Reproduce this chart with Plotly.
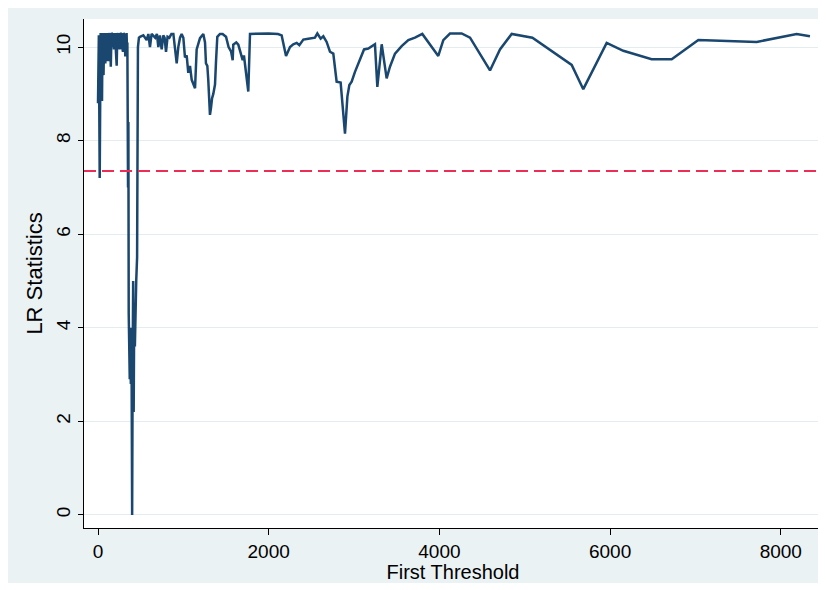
import plotly.graph_objects as go

# First-threshold candidate values (x) and LR statistics (y)
thresholds = [
    0, 10, 20, 31, 40, 47, 53, 59, 65, 72, 80, 86, 92, 98, 104, 110, 118, 125, 131, 137,
    145, 150, 158, 168, 175, 182, 187, 195, 203, 210, 219, 226, 234, 242, 254, 262, 273,
    282, 293, 300, 310, 320, 328, 335, 340, 344,
    352, 356, 360, 364, 368, 372, 378, 385, 392, 400, 406, 412, 418, 424, 432, 438, 448,
    458, 468, 480,
    492, 531, 570, 590, 609, 628, 648, 670, 690, 707, 725, 746, 765, 780, 797, 815, 836,
    860, 883, 902, 922, 941, 961, 980, 1000, 1019, 1039, 1058, 1078, 1098, 1117, 1137,
    1156, 1176, 1195, 1234, 1254, 1265, 1281, 1292, 1312, 1324, 1336, 1351, 1371, 1383,
    1398, 1429, 1460, 1500, 1530, 1560, 1578, 1585, 1620, 1644, 1660, 1680, 1695, 1710,
    1722, 1740, 1761, 1781, 1900, 2000, 2109, 2152, 2203, 2250, 2288, 2328, 2359, 2406,
    2464, 2542, 2570, 2609, 2640, 2679, 2718, 2757, 2796, 2843, 2894, 2922, 2945, 2972,
    3011, 3070, 3117, 3167, 3245, 3273, 3324, 3382, 3421, 3480, 3558, 3636, 3714, 3800,
    3890, 3987, 4046, 4124, 4261, 4359, 4593, 4710, 4847, 5090, 5550, 5686, 5960, 6155,
    6487, 6722, 7034, 7718, 8186, 8342,
]
lr_stats = [
    8.8, 10.25, 7.2, 10.3, 9.5, 8.85, 10.3, 10.1, 9.4, 10.3, 10.0, 9.65, 10.3, 9.8, 10.28,
    9.7, 10.3, 9.7, 10.25, 10.3, 9.9, 9.58, 10.3, 10.28, 10.0, 10.3, 9.95, 10.28, 10.3,
    9.9, 9.6, 10.25, 10.3, 10.1, 9.95, 10.3, 10.28, 10.0, 9.9, 10.3, 10.25, 9.8, 10.2,
    10.3, 9.9, 10.1,
    7.0, 8.4, 4.3, 3.0, 3.6, 2.9, 3.4, 2.8, 4.0, 0.0, 3.2, 5.0, 2.2, 4.2, 3.6, 4.4, 5.0,
    5.5, 10.0, 10.2,
    10.22, 10.25, 10.15, 10.28, 10.0, 10.28, 10.25, 10.2, 10.28, 10.0, 10.25, 9.95, 10.25,
    10.2, 9.9, 10.22, 10.2, 10.28, 10.28, 10.0, 9.65, 10.0, 10.2, 10.28, 10.2, 9.78, 9.82,
    9.45, 9.6, 9.3, 9.19, 9.12, 9.95, 10.1, 10.19, 10.28, 10.1, 9.65, 9.6, 9.3, 8.55, 8.7,
    8.9, 9.0, 9.2, 9.7, 10.22, 10.28, 10.28, 10.22, 10.0, 9.9, 9.72, 10.05, 10.1, 10.05,
    9.95, 9.8, 9.72, 9.82, 9.6, 9.35, 9.05, 10.28, 10.29, 10.29, 10.28, 10.25, 9.81, 10.0,
    10.06, 10.09, 10.04, 10.16, 10.18, 10.2, 10.29, 10.18, 10.23, 10.11, 9.9, 9.86, 9.26,
    9.24, 8.15, 8.94, 9.19, 9.26, 9.47, 9.72, 9.95, 9.97, 10.06, 9.15, 10.06, 9.33, 9.58,
    9.86, 10.02, 10.15, 10.2, 10.28, 10.05, 9.81, 10.15, 10.29, 10.29, 10.2, 9.5, 9.95,
    10.28, 10.2, 9.62, 9.1, 10.09, 9.92, 9.74, 9.74, 10.15, 10.11, 10.28, 10.23,
]
critical_value = 7.35
x_ticks = [0, 2000, 4000, 6000, 8000]
y_ticks = [0, 2, 4, 6, 8, 10]

FONT = "Liberation Sans, Arial, sans-serif"
BG = "#eaf2f3"

fig = go.Figure()
fig.add_trace(go.Scatter(
    x=thresholds, y=lr_stats, mode="lines",
    line=dict(color="#1a476f", width=2.5), showlegend=False,
))
fig.add_hline(y=critical_value, line=dict(color="#ee2d56", width=2, dash="12px,6px"))

fig.update_layout(
    width=818, height=575,
    margin=dict(l=76, r=4, t=11, b=55),
    paper_bgcolor=BG, plot_bgcolor="white",
    font=dict(family=FONT, color="#000000", size=19),
    xaxis=dict(
        range=[-164, 8483], tickvals=x_ticks, ticks="outside", ticklen=6,
        tickcolor="#000000", showline=True, linecolor="#000000", linewidth=1,
        showgrid=False, zeroline=False, automargin=False,
        tickfont=dict(size=19),
        title=dict(text="First Threshold", font=dict(size=20), standoff=6),
    ),
    yaxis=dict(
        range=[-0.28, 10.6], tickvals=y_ticks, ticks="outside", ticklen=5,
        tickcolor="#000000", showline=True, linecolor="#000000", linewidth=1,
        showgrid=True, gridcolor="#e3edf0", gridwidth=1, zeroline=False,
        automargin=False,
        tickangle=-90, tickfont=dict(size=19),
        title=dict(text="LR Statistics", font=dict(size=22), standoff=4),
    ),
)

fig.write_html("out.html")
